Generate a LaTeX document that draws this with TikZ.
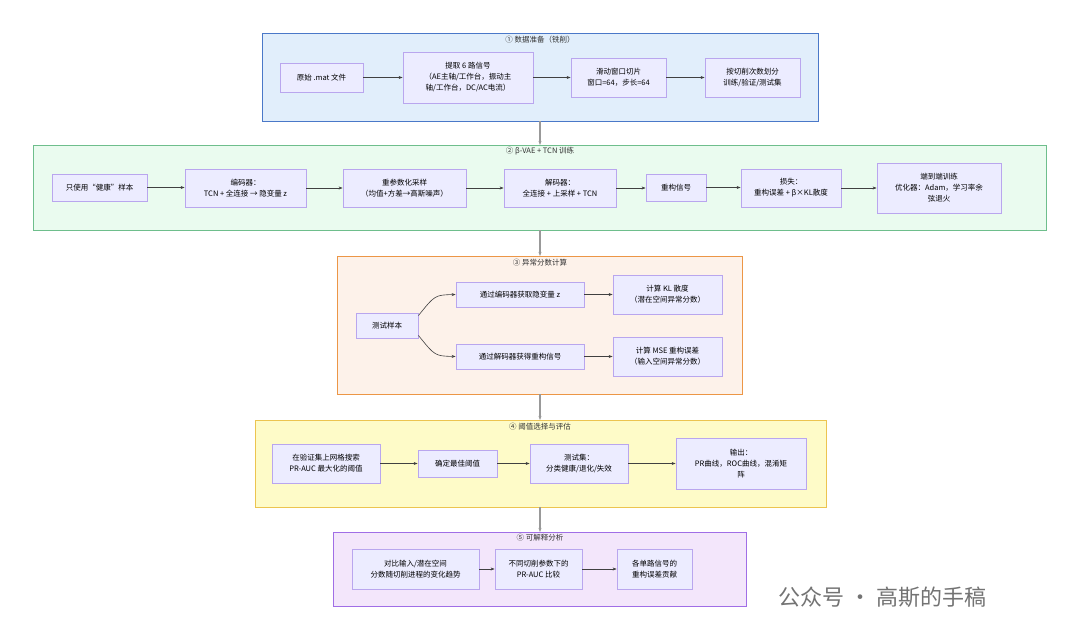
\documentclass[tikz,border=0pt]{standalone}
\usepackage{fontspec}
\setmainfont{Noto Sans CJK SC}
\usetikzlibrary{arrows.meta}
\definecolor{nf}{HTML}{ECECFF}\definecolor{nd}{HTML}{B9A6EE}
\begin{document}
\begin{tikzpicture}[x=1pt,y=-1pt,font=\fontsize{7.5}{11}\selectfont,
 box/.style={draw=nd,fill=nf,line width=0.8pt,align=center,inner sep=0pt},
 grp/.style={line width=1pt},
 ttl/.style={font=\fontsize{7.5}{9}\selectfont,text=black!80},
 arr/.style={-{Stealth[length=4pt]},draw=black!75,line width=0.6pt},
 varr/.style={-{Stealth[length=4pt]},draw=black!40,line width=1.4pt}]
\useasboundingbox[fill=white] (0,0) rectangle (1080,640);
\def\B#1#2#3#4#5#6{\node[box,minimum width=#4-#2,minimum height=#5-#3] (#1) at ({(#2+#4)/2},{(#3+#5)/2}) {#6};}
% groups
\draw[grp,fill={rgb,255:red,225;green,238;blue,251},draw={rgb,255:red,74;green,120;blue,200}] (262,33) rectangle (818,121);
\node[ttl] at (540,40) {① 数据准备（铣削）};
\draw[grp,fill={rgb,255:red,234;green,251;blue,239},draw={rgb,255:red,110;green,190;blue,140}] (33,145) rectangle (1046,230);
\node[ttl] at (540,151) {② β-VAE + TCN 训练};
\draw[grp,fill={rgb,255:red,253;green,242;blue,234},draw={rgb,255:red,236;green,150;blue,70}] (337,256) rectangle (742,394);
\node[ttl] at (540,263) {③ 异常分数计算};
\draw[grp,fill={rgb,255:red,254;green,251;blue,200},draw={rgb,255:red,236;green,196;blue,80}] (255,420) rectangle (826,507);
\node[ttl] at (540,427) {④ 阈值选择与评估};
\draw[grp,fill={rgb,255:red,243;green,230;blue,251},draw={rgb,255:red,160;green,110;blue,230}] (333,532) rectangle (746,606);
\node[ttl] at (540,538) {⑤ 可解释分析};
% nodes g1
\B{a1}{280}{63}{363}{92}{原始 .mat 文件}
\B{a2}{403}{52}{533}{103}{提取 6 路信号\\（AE主轴/工作台，振动主\\轴/工作台，DC/AC电流）}
\B{a3}{571}{58}{666}{97}{滑动窗口切片\\窗口=64，步长=64}
\B{a4}{705}{58}{800}{97}{按切削次数划分\\训练/验证/测试集}
% g2
\B{b1}{52}{174}{147}{201}{只使用“健康”样本}
\B{b2}{185}{169}{306}{207}{编码器：\\TCN + 全连接 → 隐变量 z}
\B{b3}{343}{169}{466}{207}{重参数化采样\\（均值+方差→高斯噪声）}
\B{b4}{504}{169}{616}{207}{解码器：\\全连接 + 上采样 + TCN}
\B{b5}{646}{174}{706}{201}{重构信号}
\B{b6}{741}{169}{841}{207}{损失：\\重构误差 + β×KL散度}
\B{b7}{877}{163}{1001}{213}{端到端训练\\优化器：Adam，学习率余\\弦退火}
% g3
\B{c1}{356}{313}{418}{338}{测试样本}
\B{c2}{456}{282}{584}{307}{通过编码器获取隐变量 z}
\B{c3}{613}{275}{722}{314}{计算 KL 散度\\（潜在空间异常分数）}
\B{c4}{456}{344}{584}{369}{通过解码器获得重构信号}
\B{c5}{613}{337}{722}{376}{计算 MSE 重构误差\\（输入空间异常分数）}
% g4
\B{d1}{272}{444}{380}{483}{在验证集上网格搜索\\PR-AUC 最大化的阈值}
\B{d2}{418}{450}{497}{477}{确定最佳阈值}
\B{d3}{530}{444}{628}{483}{测试集：\\分类健康/退化/失效}
\B{d4}{676}{438}{806}{489}{输出：\\PR曲线，ROC曲线，混淆矩\\阵}
% g5
\B{e1}{352}{549}{479}{589}{对比输入/潜在空间\\分数随切削进程的变化趋势}
\B{e2}{495}{549}{582}{589}{不同切削参数下的\\PR-AUC 比较}
\B{e3}{617}{549}{692}{589}{各单路信号的\\重构误差贡献}
% arrows
\foreach \u/\v in {a1/a2,a2/a3,a3/a4,b1/b2,b2/b3,b3/b4,b4/b5,b5/b6,b6/b7,c2/c3,c4/c5,d1/d2,d2/d3,d3/d4,e1/e2,e2/e3}
  \draw[arr] (\u.east) -- (\u.east -| \v.west);
\draw[arr] ([yshift=-3]c1.north east) .. controls (435,295) .. (c2.west);
\draw[arr] ([yshift=3]c1.south east) .. controls (435,356) .. (c4.west);
\coordinate (g1b) at (540,121); \coordinate (g2t) at (540,145);
\coordinate (g2b) at (540,230); \coordinate (g3t) at (540,256);
\coordinate (g3b) at (540,394); \coordinate (g4t) at (540,420);
\coordinate (g4b) at (540,507); \coordinate (g5t) at (540,532);
\draw[varr] (g1b) -- (g2t); \draw[varr] (g2b) -- (g3t);
\draw[varr] (g3b) -- (g4t); \draw[varr] (g4b) -- (g5t);
% watermark
\node[font=\fontsize{22}{26}\selectfont,text=black!55,anchor=west] (wm) at (775,597) {公众号 · 高斯的手稿};
\end{tikzpicture}
\end{document}
